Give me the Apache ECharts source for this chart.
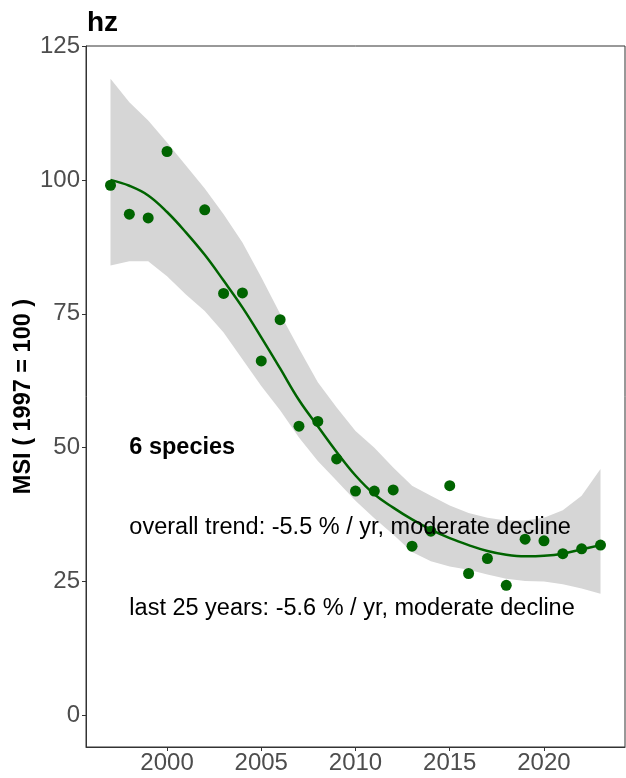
<!DOCTYPE html>
<html>
<head>
<meta charset="utf-8">
<script src="https://cdn.jsdelivr.net/npm/echarts@6/dist/echarts.min.js"></script>
<style>
html,body{margin:0;padding:0;background:#fff;}
#chart{width:626px;height:778px;}
</style>
</head>
<body>
<div id="chart"></div>
<script>
// Observed yearly index values (points)
const pointYears = [1997,1998,1999,2000,2002,2003,2004,2005,2006,2007,2008,2009,2010,2011,2012,2013,2014,2015,2016,2017,2018,2019,2020,2021,2022,2023];
const pointValues = [99.0,93.6,92.9,105.3,94.4,78.8,78.9,66.2,73.9,54.0,54.9,47.9,41.9,41.9,42.1,31.6,34.4,42.9,26.5,29.3,24.3,32.9,32.6,30.2,31.1,31.8];

// Smoothed trend and its confidence band, read per year
const smoothYears = [1997,1998,1999,2000,2001,2002,2003,2004,2005,2006,2007,2008,2009,2010,2011,2012,2013,2014,2015,2016,2017,2018,2019,2020,2021,2022,2023];
const smoothValues = [100.0,98.9,97.1,94.0,90.2,86.0,81.2,76.2,70.6,64.8,58.9,54.0,49.2,44.8,41.3,38.8,36.6,34.7,33.1,31.8,30.7,30.0,29.7,29.8,30.2,31.0,31.8];
const upperValues = [118.9,114.5,111.1,107.0,102.7,98.4,93.6,88.3,81.8,75.0,68.5,62.2,57.5,53.1,50.0,46.3,42.9,41.0,39.2,37.8,36.9,36.4,36.4,36.9,38.3,41.0,46.0];
const lowerValues = [84.0,84.8,84.8,82.0,78.6,75.5,71.5,66.5,61.5,57.0,51.9,47.5,43.8,40.1,36.8,33.8,30.5,28.8,27.8,27.2,26.3,25.5,25.1,25.0,24.5,23.7,22.7];

const xTicks = [2000,2005,2010,2015,2020];
const yTicks = [0,25,50,75,100,125];

const titleText = 'hz';
const yAxisTitle = 'MSI ( 1997 = 100 )';
const annotations = [
  {x: 1998, y: 50, text: '6 species', bold: true},
  {x: 1998, y: 35, text: 'overall trend: -5.5 % / yr, moderate decline', bold: false},
  {x: 1998, y: 20, text: 'last 25 years: -5.6 % / yr, moderate decline', bold: false}
];

const FONT = "'Liberation Sans', Arial, Helvetica, sans-serif";
const chart = echarts.init(document.getElementById('chart'), null, {renderer: 'canvas'});

const bandData = smoothYears.map((y, i) => [y, lowerValues[i], upperValues[i]]);
const lineData = smoothYears.map((y, i) => [y, smoothValues[i]]);
const pointData = pointYears.map((y, i) => [y, pointValues[i]]);

function renderBand(params, api) {
  if (params.dataIndex !== 0) return null;
  const top = [], bottom = [];
  for (let i = 0; i < bandData.length; i++) {
    top.push(api.coord([bandData[i][0], bandData[i][2]]));
    bottom.push(api.coord([bandData[i][0], bandData[i][1]]));
  }
  const pts = top.concat(bottom.reverse());
  return {
    type: 'polygon',
    shape: {points: pts},
    style: {fill: '#d6d6d6', stroke: 'none'},
    silent: true
  };
}

const option = {
  animation: false,
  backgroundColor: '#ffffff',
  title: {
    text: titleText,
    left: 87, top: 9, padding: 0,
    textStyle: {fontFamily: FONT, fontWeight: 'bold', fontSize: 28, color: '#000'}
  },
  grid: {
    left: 86, right: 1, top: 46, bottom: 31,
    outerBoundsMode: 'none', containLabel: false,
    show: true, borderColor: '#333333', borderWidth: 1, backgroundColor: 'transparent'
  },
  xAxis: {
    type: 'value', min: 1995.7, max: 2024.3,
    splitLine: {show: false},
    axisLine: {show: true, onZero: false, lineStyle: {color: '#333333', width: 1}},
    axisTick: {show: true, length: 4, lineStyle: {color: '#333333'}, customValues: xTicks},
    axisLabel: {
      color: '#4d4d4d', fontSize: 24, fontFamily: FONT, margin: 4,
      customValues: xTicks, formatter: v => String(v)
    }
  },
  yAxis: {
    type: 'value', min: -5.9, max: 125,
    name: yAxisTitle, nameLocation: 'middle', nameRotate: 90, nameGap: 50,
    nameMoveOverlap: false,
    nameTextStyle: {fontFamily: FONT, fontWeight: 'bold', fontSize: 23.5, color: '#000'},
    splitLine: {show: false},
    axisLine: {show: true, onZero: false, lineStyle: {color: '#333333', width: 1}},
    axisTick: {show: true, length: 4, lineStyle: {color: '#333333'}, customValues: yTicks},
    axisLabel: {
      color: '#4d4d4d', fontSize: 24, fontFamily: FONT, margin: 6,
      customValues: yTicks, formatter: v => String(v)
    }
  },
  series: [
    {
      type: 'custom', name: 'band', data: bandData,
      renderItem: renderBand, encode: {x: 0, y: [1, 2]}, silent: true, z: 1
    },
    {
      type: 'line', name: 'trend', data: lineData,
      symbol: 'none', smooth: 0.4, lineStyle: {color: '#006400', width: 2.5}, z: 3
    },
    {
      type: 'scatter', name: 'msi', data: pointData,
      symbol: 'circle', symbolSize: 11, itemStyle: {color: '#006400', opacity: 1}, z: 4
    },
    {
      type: 'scatter', name: 'annotations',
      data: annotations.map(a => ({value: [a.x, a.y], label: {
        show: true, position: 'right', distance: 0, formatter: a.text,
        fontFamily: FONT, fontSize: 23.5, color: '#000000', opacity: 1,
        fontWeight: a.bold ? 'bold' : 'normal'
      }})),
      symbolSize: 0, silent: true, z: 10, zlevel: 1,
      itemStyle: {opacity: 1}
    }
  ]
};
chart.setOption(option);
</script>
</body>
</html>
